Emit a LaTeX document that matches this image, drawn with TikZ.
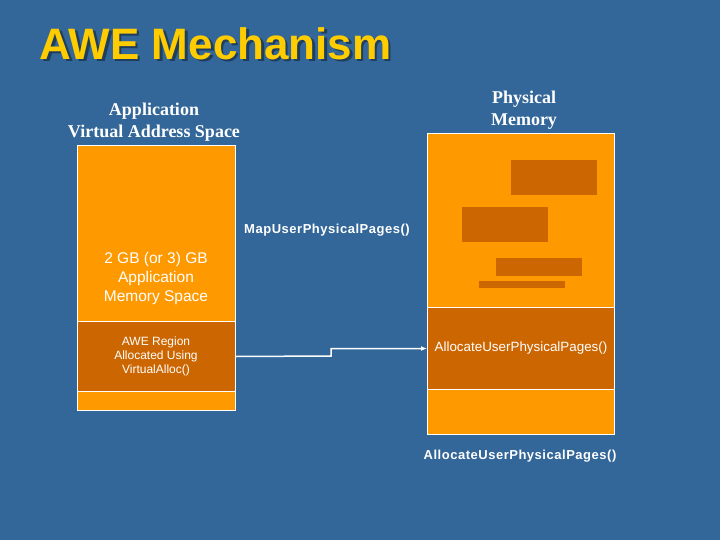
\documentclass[tikz,border=0pt]{standalone}
\usepackage{fontspec}
\setmainfont{Liberation Serif}
\setsansfont{Liberation Sans}
\usetikzlibrary{arrows.meta}
\definecolor{bg}{HTML}{336699}
\definecolor{org}{HTML}{FF9900}
\definecolor{dorg}{HTML}{CC6600}
\definecolor{ttl}{HTML}{FFCC00}
\definecolor{shd}{HTML}{1F3D5C}
\newcommand{\shadowtext}[1]{\makebox[0pt][l]{\hspace{2.5pt}\raisebox{-2.5pt}{\textcolor{shd}{#1}}}#1}
\tikzset{
  box/.style={draw=white, line width=1pt, fill=org, inner sep=0pt, anchor=north west},
  dbox/.style={draw=white, line width=1pt, fill=dorg, inner sep=0pt, anchor=north west},
  blk/.style={fill=dorg, inner sep=0pt, anchor=north west},
  hdr/.style={text=white, font=\bfseries\fontsize{18}{22}\selectfont, align=center},
  lbl/.style={text=white, font=\sffamily\bfseries\fontsize{13}{15}\selectfont\addfontfeatures{LetterSpace=4}},
  intext/.style={text=white, font=\sffamily, align=center},
  ttlfont/.style={font=\sffamily\bfseries\fontsize{44}{48}\selectfont, anchor=west},
}
\begin{document}
\begin{tikzpicture}[x=1pt,y=-1pt]
\fill[bg] (0,0) rectangle (720,540);
\useasboundingbox (0,0) rectangle (720,540);
% title with shadow
\node[ttlfont, text=ttl] (title) at (36,45) {\shadowtext{AWE Mechanism}};
% headers
\node[hdr] (apphdr) at (154,122) {Application\\Virtual Address Space};
\node[hdr] (physhdr) at (524,110) {Physical\\Memory};
% left box
\node[box, minimum width=158, minimum height=265] (left) at (77,145) {};
\node[dbox, minimum width=158, minimum height=70] (awe) at (77,321) {};
\node[intext, font=\sffamily\fontsize{15.5}{19}\selectfont] (appmem) at (156,278) {2 GB (or 3) GB\\Application\\Memory Space};
\node[intext, font=\sffamily\fontsize{12}{14}\selectfont] (awetxt) at (156,356) {AWE Region\\Allocated Using\\VirtualAlloc()};
% right box
\node[box, minimum width=187, minimum height=301] (phys) at (427,133) {};
\node[dbox, minimum width=187, minimum height=82] (physdark) at (427,307) {};
\node[blk, minimum width=86, minimum height=35] (pg1) at (511,160) {};
\node[blk, minimum width=86, minimum height=35] (pg2) at (462,207) {};
\node[blk, minimum width=86, minimum height=18] (pg3) at (496,258) {};
\node[blk, minimum width=86, minimum height=7] (pg4) at (479,281) {};
\node[intext, font=\sffamily\fontsize{13.4}{16}\selectfont] (alloctxt) at (521,348) {AllocateUserPhysicalPages()};
% labels
\node[lbl] (maplbl) at (327,230) {MapUserPhysicalPages()};
\node[lbl] (alloclbl) at (520,456) {AllocateUserPhysicalPages()};
% connector
\coordinate (bend) at (331,356);
\draw[white, line width=1.5pt, -{Latex[length=6pt,width=5pt]}] (awe.east) -- (bend) |- (physdark.west);
\end{tikzpicture}
\end{document}
